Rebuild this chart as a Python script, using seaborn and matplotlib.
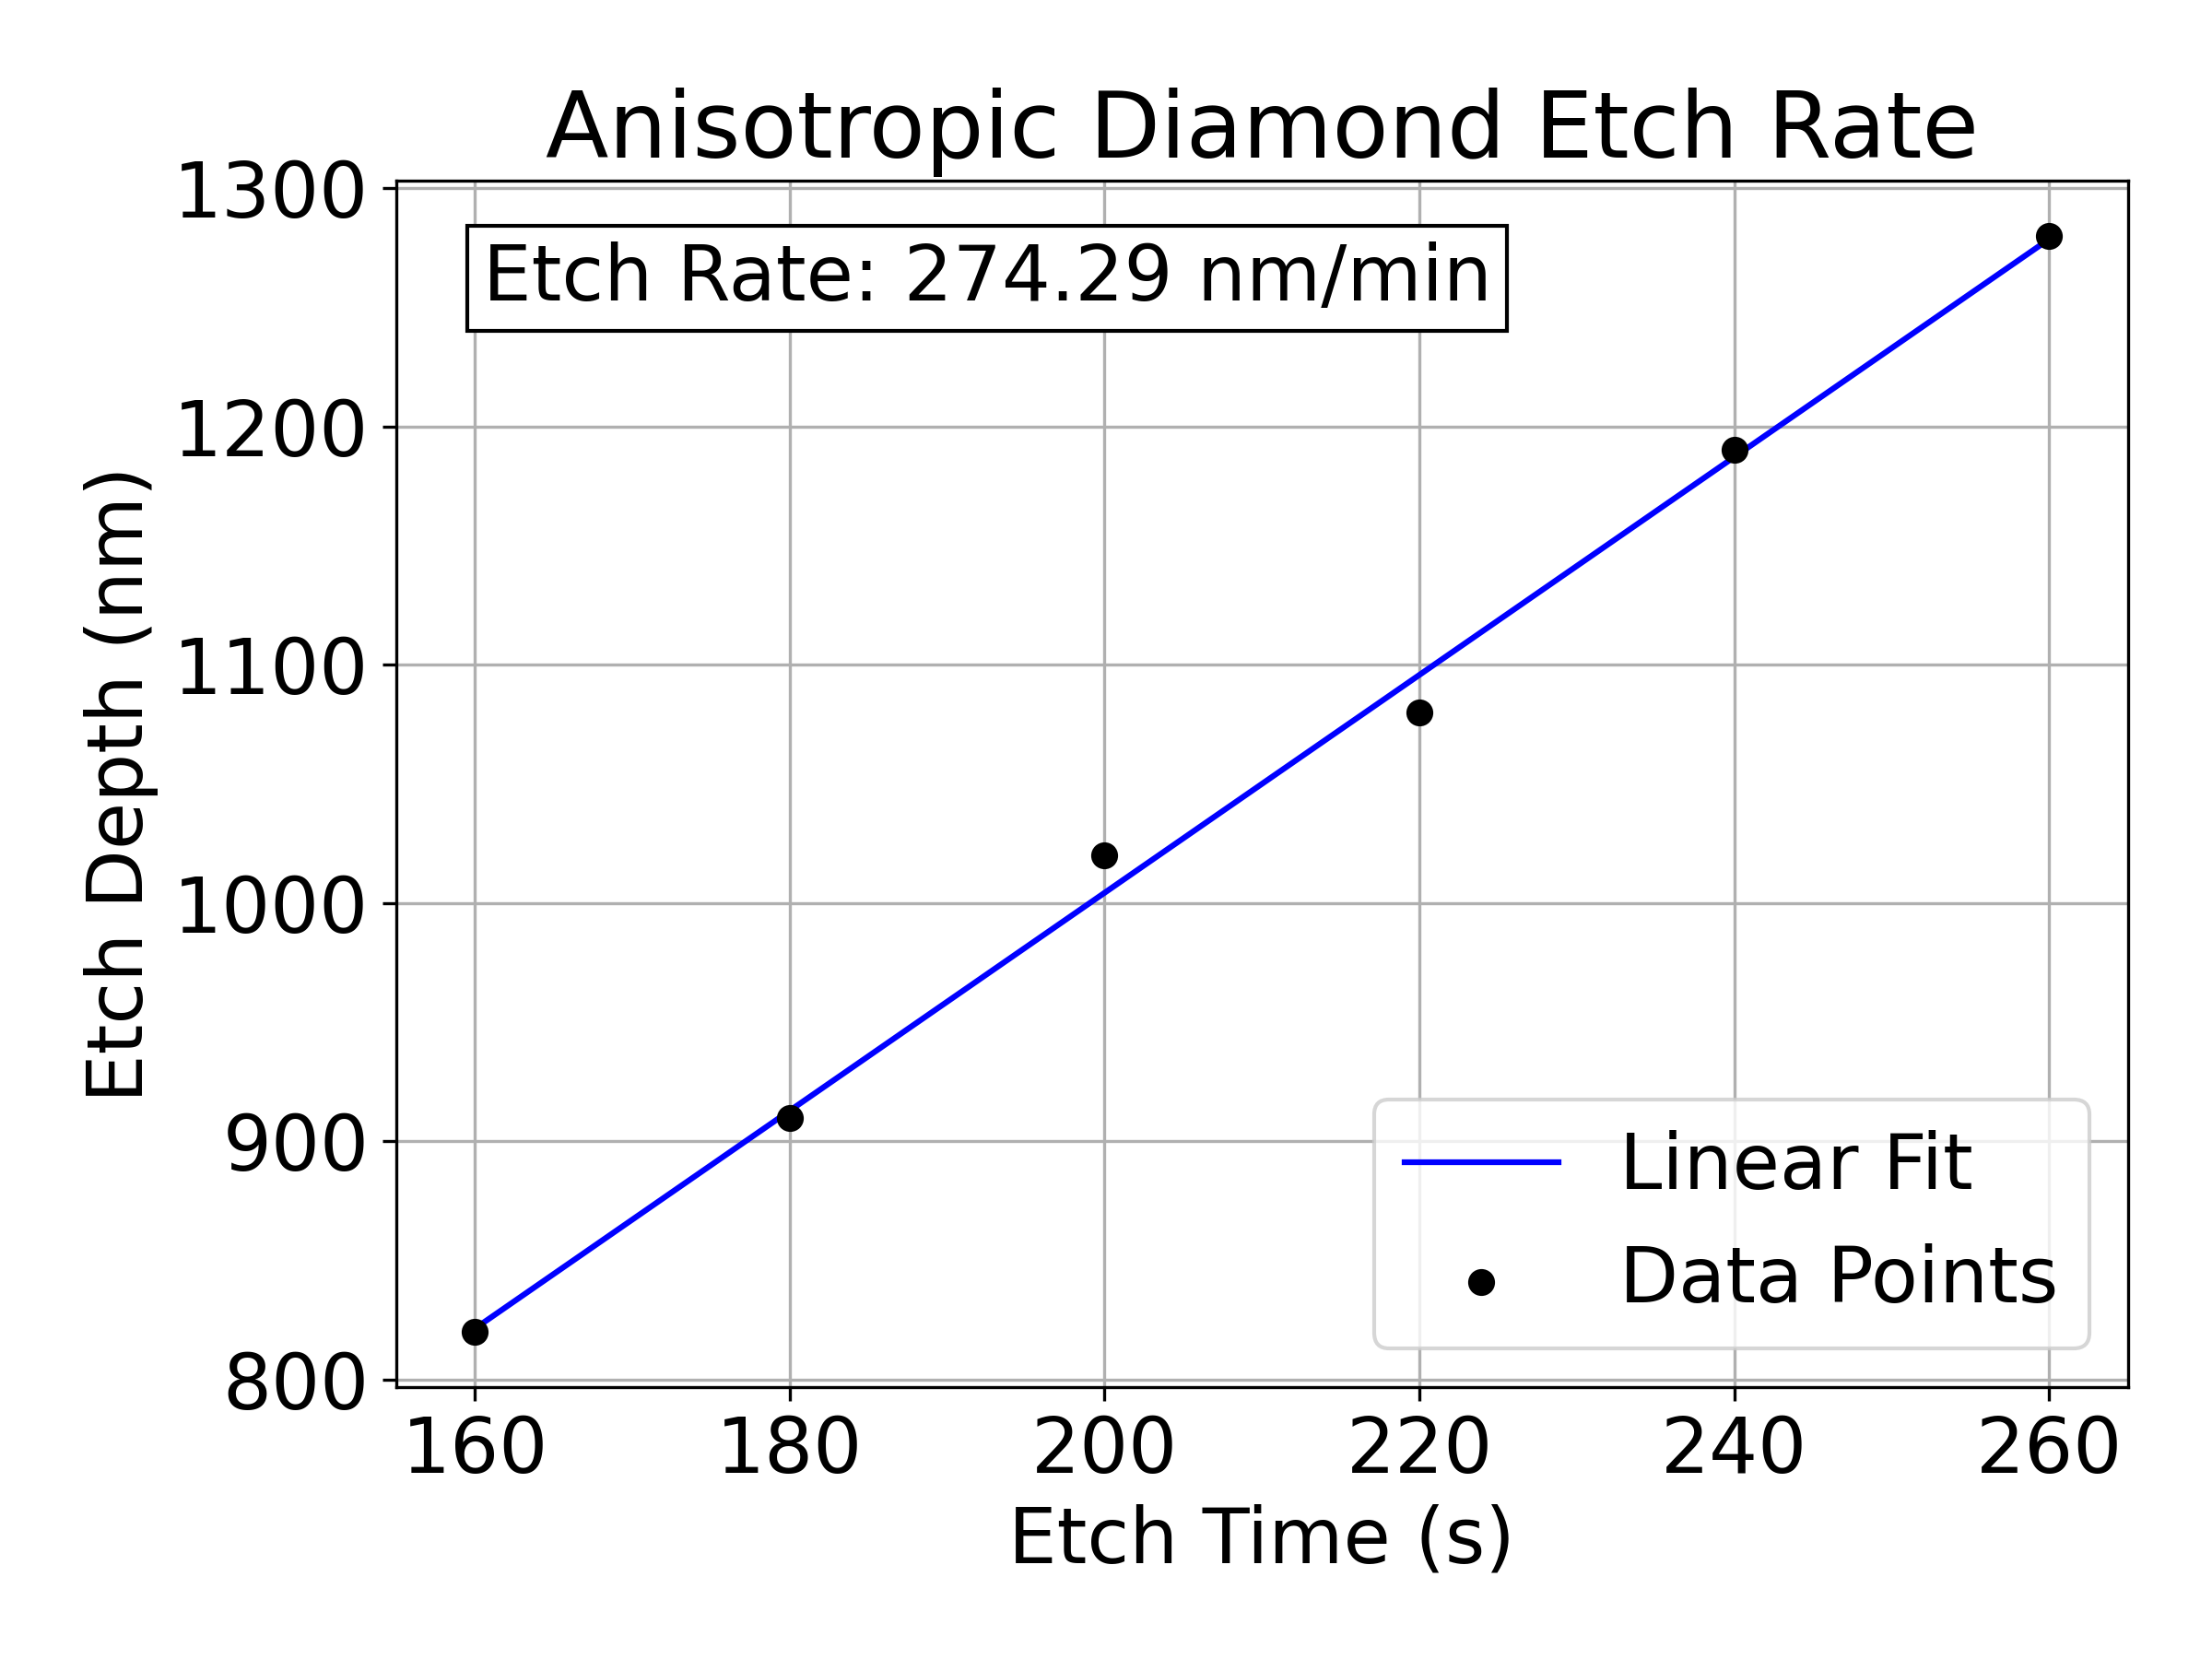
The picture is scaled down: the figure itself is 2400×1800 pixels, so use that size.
import matplotlib
matplotlib.use('agg')
import matplotlib.pyplot as plt
import seaborn as sns
import numpy as np

# etch measurements
etch_time = np.array([160, 180, 200, 220, 240, 260])  # s
etch_depth = np.array([820, 910, 1020, 1080, 1190, 1280])  # nm

# linear fit, rate converted to nm/min
slope, intercept = np.polyfit(etch_time, etch_depth, 1)
fit_depth = slope * etch_time + intercept
rate = slope * 60

fig, ax = plt.subplots(figsize=(8, 6), dpi=300)

sns.lineplot(x=etch_time, y=fit_depth, color='blue', linewidth=1.5, label='Linear Fit', ax=ax)
sns.scatterplot(x=etch_time, y=etch_depth, color='black', edgecolor='black', linewidth=1,
                s=36, label='Data Points', ax=ax, zorder=3)

ax.set_title('Anisotropic Diamond Etch Rate', fontsize=24)
ax.set_xlabel('Etch Time (s)', fontsize=20)
ax.set_ylabel('Etch Depth (nm)', fontsize=20)
ax.tick_params(labelsize=20)
ax.grid(True)

ax.text(0.05, 0.95, 'Etch Rate: {:.2f} nm/min'.format(rate), transform=ax.transAxes,
        fontsize=20, va='top', ha='left', bbox=dict(facecolor='white', edgecolor='black'))

ax.legend(fontsize=20, loc='lower right')

fig.subplots_adjust(left=0.179, right=0.962, top=0.891, bottom=0.164)
plt.savefig('out.png', dpi=300)
plt.close()
